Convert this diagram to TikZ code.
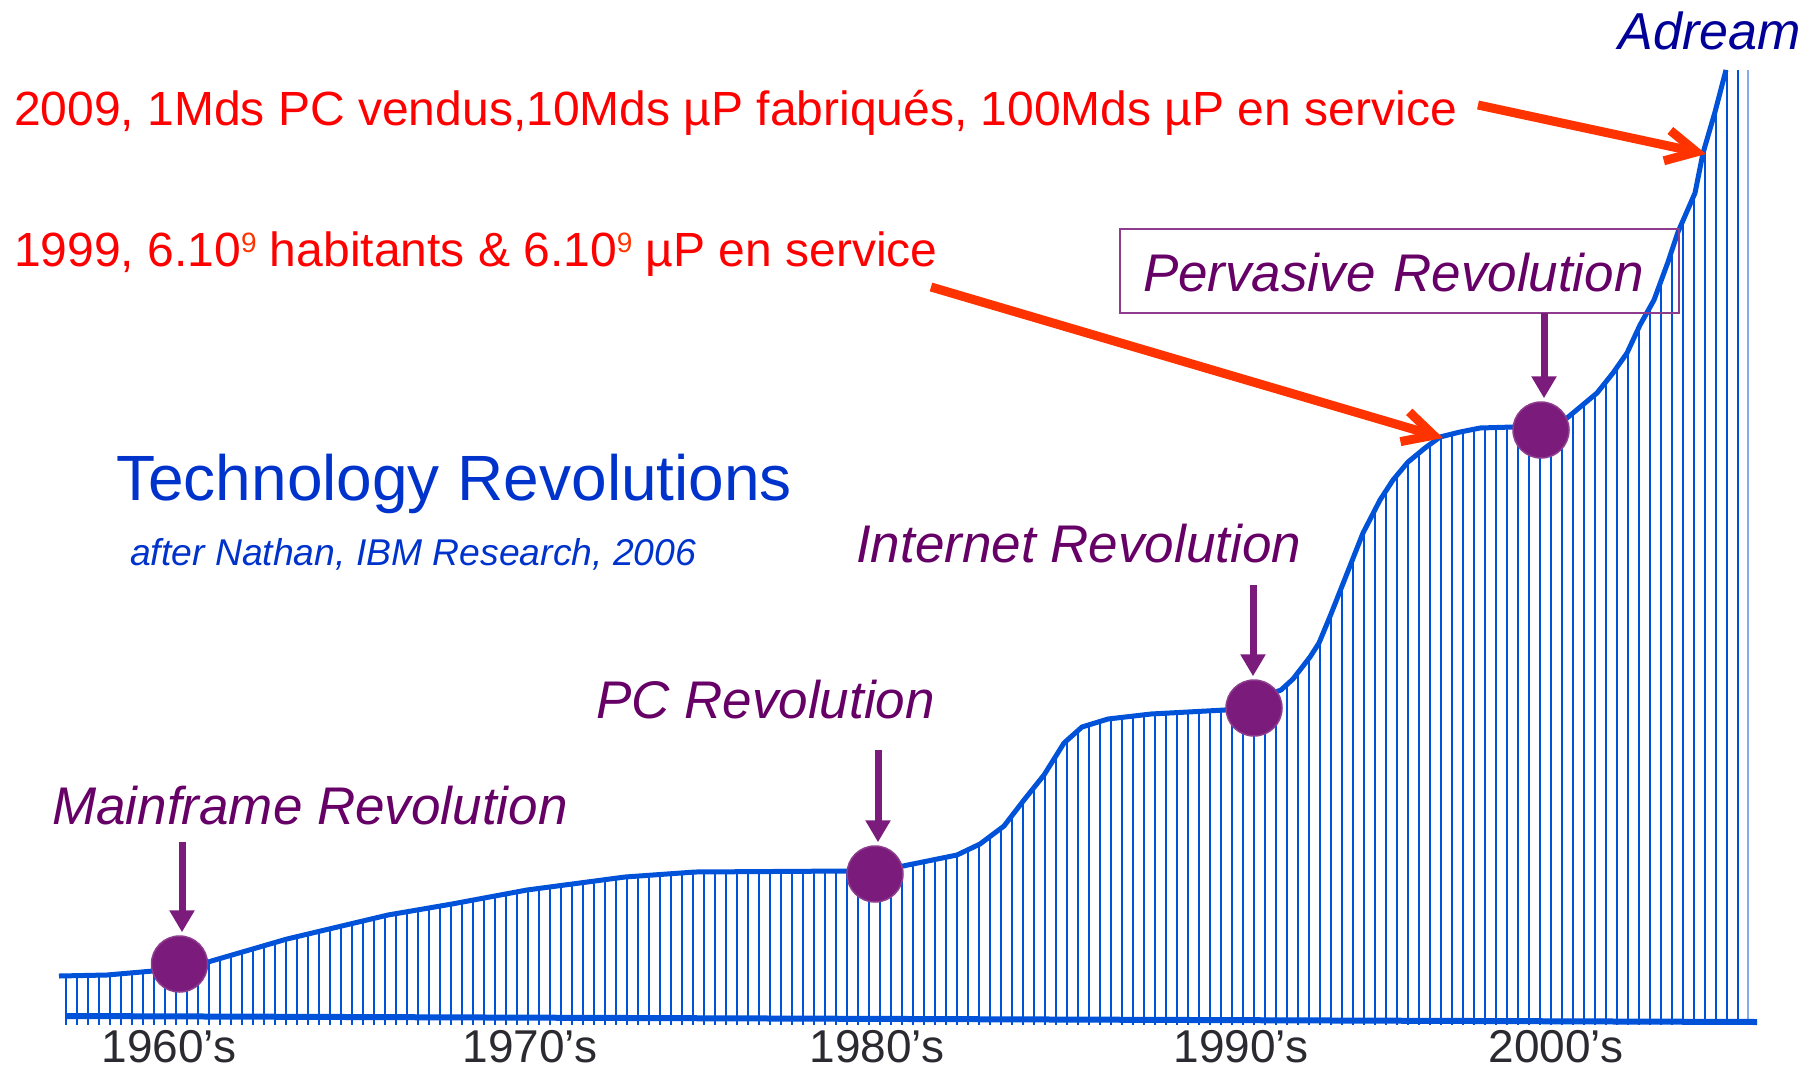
\documentclass[tikz,border=0pt]{standalone}
\usepackage{fontspec}
\setmainfont{Liberation Sans}
\usetikzlibrary{arrows.meta,calc}
\definecolor{redtxt}{HTML}{FF0000}
\definecolor{redarr}{HTML}{FF3300}
\definecolor{ptxt}{HTML}{660066}
\definecolor{pdot}{HTML}{7B1B7B}
\definecolor{pedge}{HTML}{8E3C8E}
\definecolor{cblue}{HTML}{0052D9}
\definecolor{tblue}{HTML}{0033CC}
\definecolor{navyb}{HTML}{000099}
\definecolor{dgray}{HTML}{2A2A30}
\definecolor{lblue}{HTML}{8AAAEE}
\newcommand{\supnine}{\raisebox{14pt}{\fontsize{28pt}{28pt}\selectfont\color{redarr}9}}
\tikzset{
  redtext/.style={text=redtxt, inner sep=0pt, anchor=base west, font={\fontsize{48}{56}\selectfont}},
  adreamtext/.style={text=navyb, inner sep=0pt, anchor=base east, font={\fontsize{52}{60}\selectfont\itshape}},
  titletext/.style={text=tblue, inner sep=0pt, anchor=base west, font={\fontsize{64}{70}\selectfont}},
  subtext/.style={text=tblue, inner sep=0pt, anchor=base west, font={\fontsize{37.3}{42}\selectfont\itshape}},
  revtext/.style={text=ptxt, inner sep=0pt, anchor=base west, font={\fontsize{53}{60}\selectfont\itshape}},
  dectext/.style={text=dgray, inner sep=0pt, anchor=base, font={\fontsize{46}{52}\selectfont}},
  dot/.style={circle, fill=pdot, draw=pedge, line width=1.5pt, minimum size=56pt, inner sep=0pt},
  parrow/.style={draw=pdot, line width=7pt, -{Triangle[length=22pt,width=24pt]}, shorten >=3pt},
  rarrow/.style={draw=redarr, line width=9pt, -{Straight Barb[length=30pt,width=31pt]}},
  curveline/.style={draw=cblue, line width=5pt, line join=round},
  hatchline/.style={draw=cblue, line width=2.2pt},
  axisline/.style={draw=cblue, line width=6pt}
}
\def\curvepath{(59,976) -- (107,975) -- (153,971) -- (208,962) -- (287,939) -- (388,915) -- (452,904) -- (527,890) -- (625,877) -- (695,872) -- (848,871) -- (903,866) -- (957,855) -- (980,844) -- (1004,826) -- (1024,800) -- (1044,775) -- (1064,743) -- (1082,727) -- (1108,719) -- (1151,714) -- (1225,710) -- (1281,690) -- (1293,679) -- (1310,657) -- (1319,643) -- (1331,614) -- (1348,571) -- (1363,533) -- (1380,500) -- (1393,480) -- (1408,462) -- (1425,448) -- (1440,437) -- (1460,432) -- (1480,428) -- (1513,427) -- (1567,418) -- (1597,393) -- (1613,373) -- (1627,353) -- (1640,325) -- (1654,300) -- (1668,262) -- (1678,232) -- (1695,193) -- (1703,153) -- (1715,112) -- (1726,70)}
\begin{document}
\begin{tikzpicture}[x=1pt,y=-1pt]
\useasboundingbox (0,0) rectangle (1816,1071);
% hatch
\begin{scope}
  \clip \curvepath -- (1760,70) -- (1760,1030) -- (59,1030) -- cycle;
  \foreach \i in {0,...,152} \draw[hatchline] ({66+11*\i},60) -- ({66+11*\i},1025);
\end{scope}
\draw[draw=lblue, line width=1.3pt] (1748,70) -- (1748,1020);
\draw[curveline] \curvepath;
\draw[axisline] (66,1016) -- (1757,1022);
% texts
\node[redtext] (l1) at (14,125) {2009, 1Mds PC vendus,10Mds µP fabriqués, 100Mds µP en service};
\node[redtext] (l2) at (14,266) {1999, 6.10\supnine{} habitants \& 6.10\supnine{} µP en service};
\node[adreamtext] (ad) at (1801,49) {Adream};
\node[titletext] (tt) at (116,500) {Technology Revolutions};
\node[subtext] (st) at (130,565) {after Nathan, IBM Research, 2006};
\node[revtext] (mfl) at (52,824) {Mainframe Revolution};
\node[revtext] (pcl) at (596,718) {PC Revolution};
\node[revtext] (inl) at (856,562) {Internet Revolution};
\node[revtext, draw=pedge, line width=2pt, inner xsep=23pt, inner ysep=0pt, text height=62pt, text depth=22pt, text width=513pt, align=left] (pvl) at (1119,291) {Pervasive Revolution};
% decades
\node[dectext] (d60) at (169,1062) {1960’s};
\node[dectext] (d70) at (530,1062) {1970’s};
\node[dectext] (d80) at (877,1062) {1980’s};
\node[dectext] (d90) at (1241,1062) {1990’s};
\node[dectext] (d00) at (1556,1062) {2000’s};
% dots
\node[dot] (mf) at (179.5,964) {};
\node[dot] (pc) at (875,874) {};
\node[dot] (in) at (1254,708) {};
\node[dot] (pv) at (1541,430) {};
% purple arrows
\coordinate (mfa) at (182,842);
\coordinate (pca) at (878,750);
\coordinate (ina) at (1253,585);
\coordinate (pva) at (1544,313);
\draw[parrow] (mfa) -- (mfa |- mf.north);
\draw[parrow] (pca) -- (pca |- pc.north);
\draw[parrow] (ina) -- (ina |- in.north);
\draw[parrow] (pva) -- (pva |- pv.north);
% red arrows
\coordinate (r1s) at (1478,105);
\coordinate (r1e) at (1706,154);
\coordinate (r2s) at (931,287);
\coordinate (r2e) at (1443,438);
\draw[rarrow] (r1s) -- (r1e);
\draw[rarrow] (r2s) -- (r2e);
\end{tikzpicture}
\end{document}
